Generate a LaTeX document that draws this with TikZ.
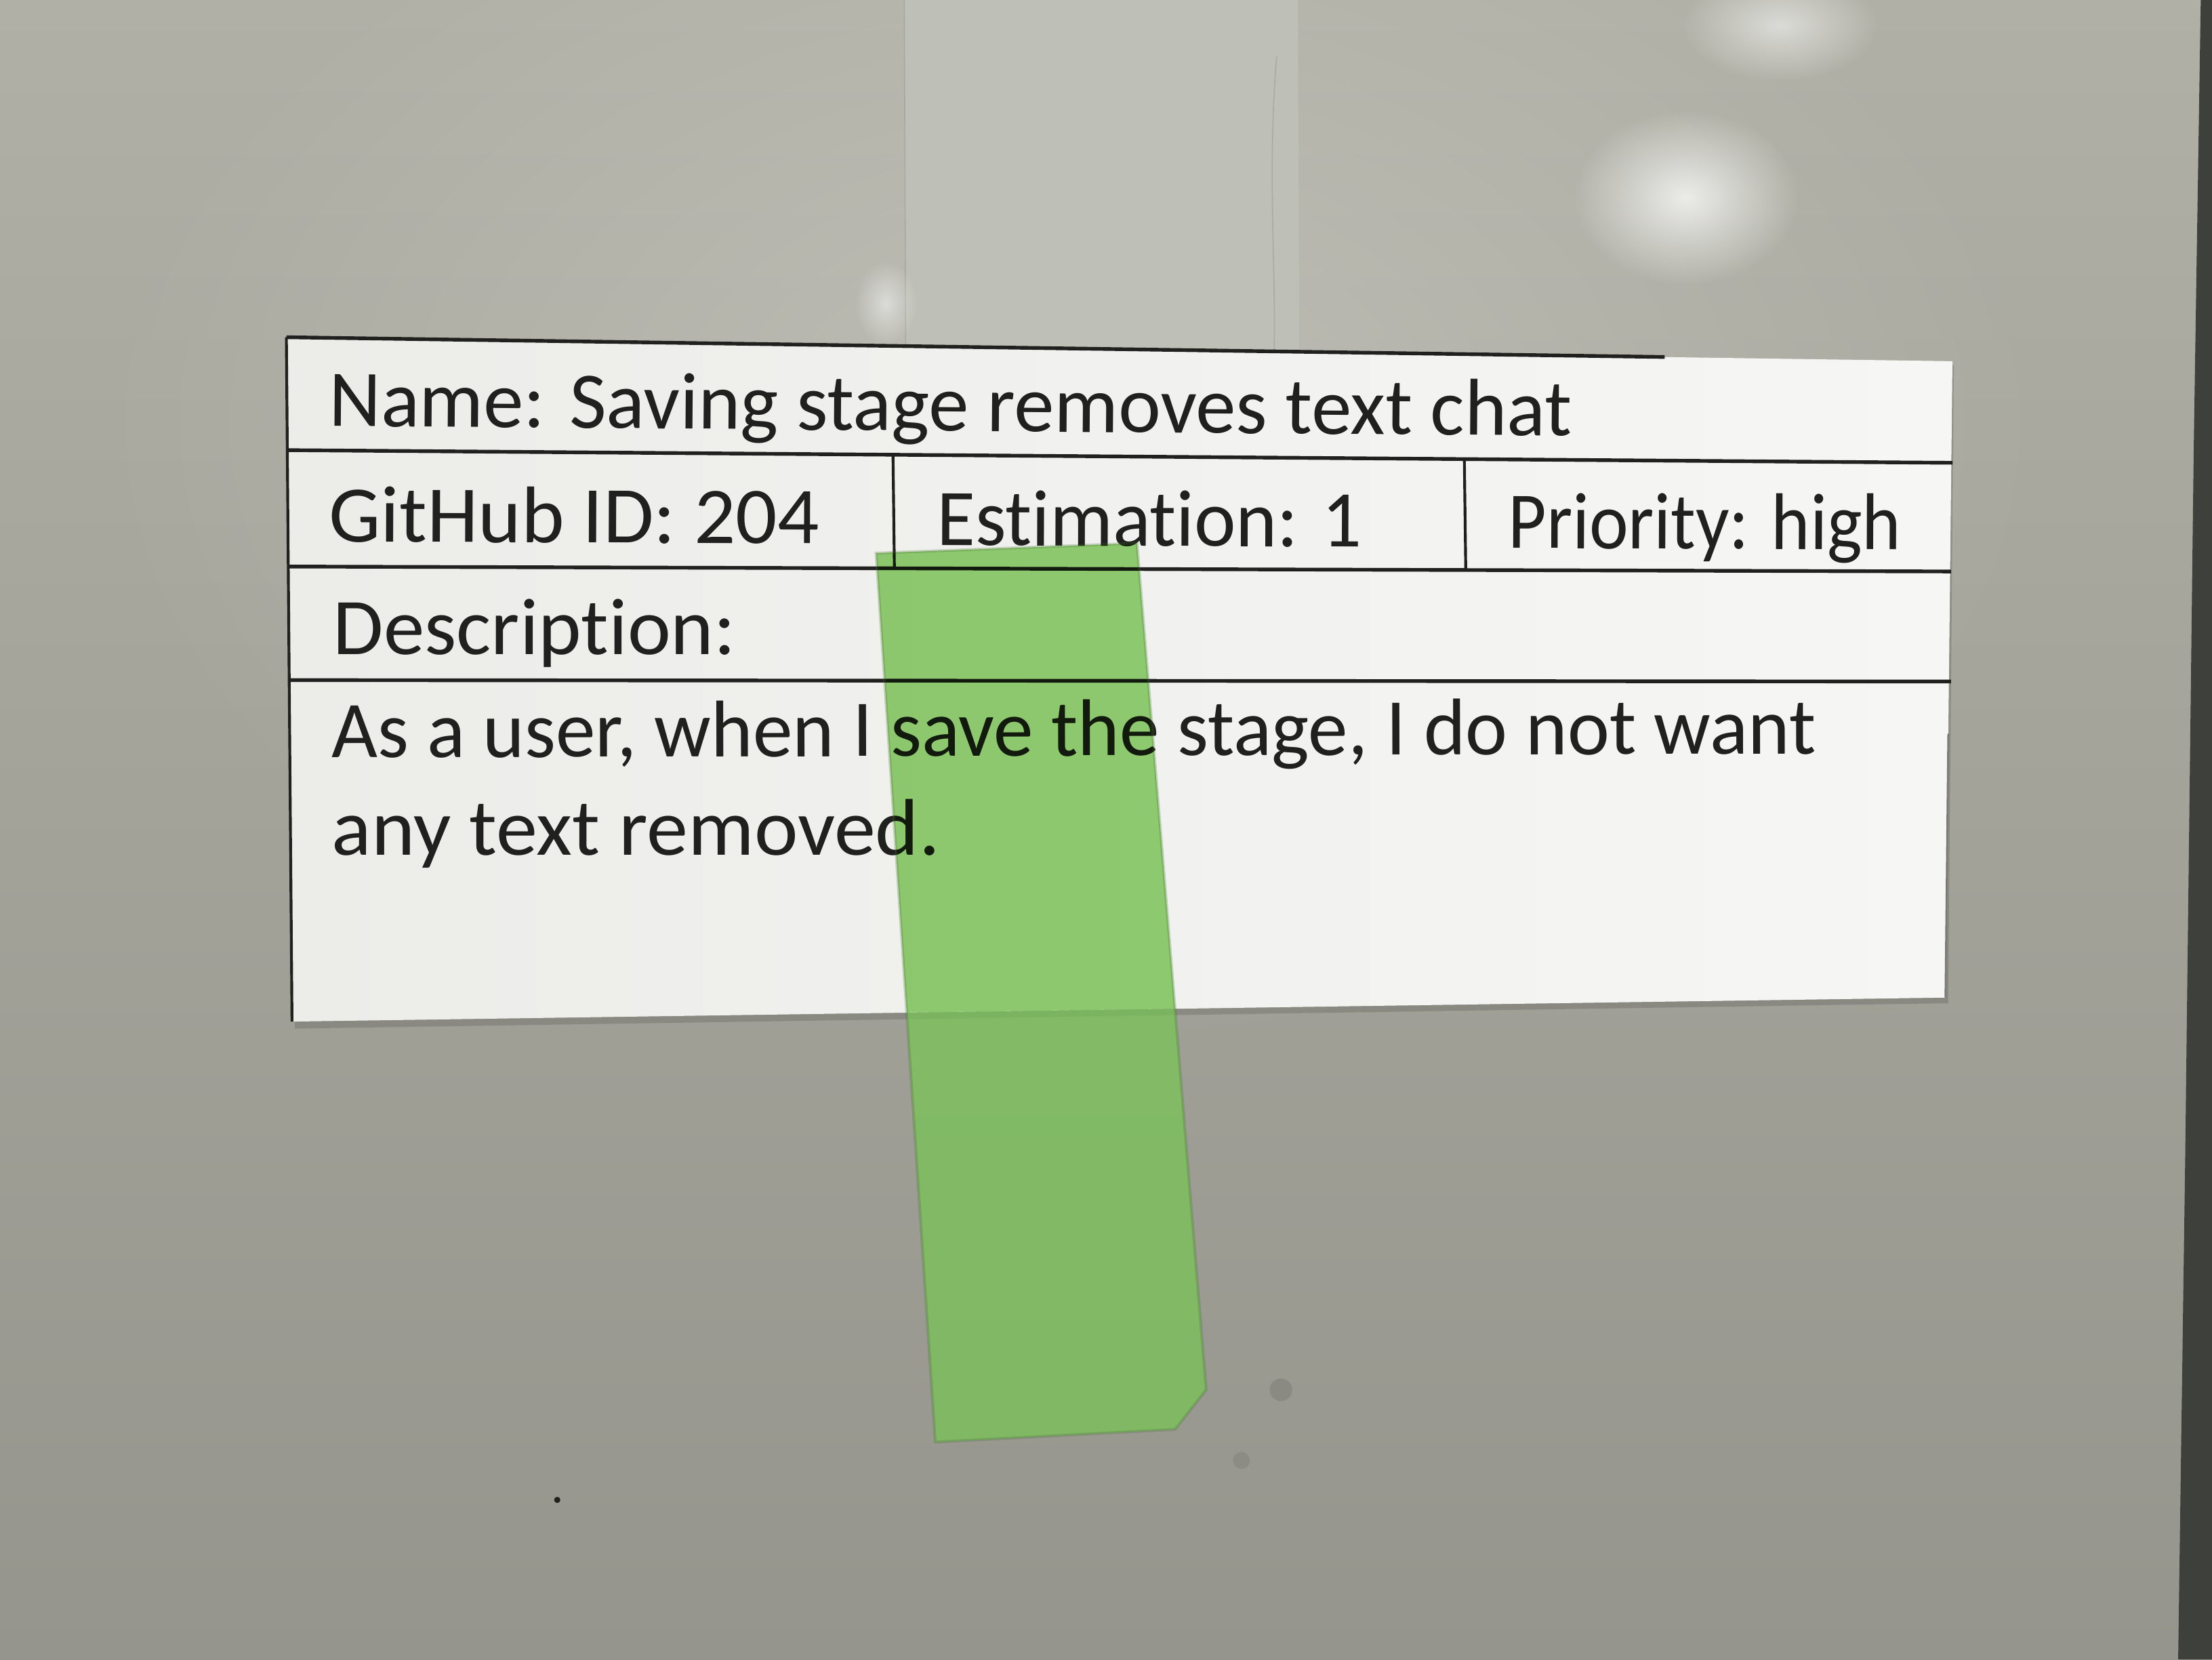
\documentclass[tikz,border=0pt]{standalone}
\usepackage{fontspec}
\setmainfont{Carlito}[Ligatures=NoCommon]
\usetikzlibrary{fadings}
\definecolor{wallTop}{RGB}{176,176,166}
\definecolor{wallBot}{RGB}{150,149,141}
\definecolor{tapeGray}{RGB}{190,191,182}
\definecolor{cardL}{RGB}{236,236,233}
\definecolor{cardR}{RGB}{246,247,245}
\definecolor{ink}{RGB}{32,32,30}
\definecolor{tapeGreen}{RGB}{118,198,82}
\definecolor{tapeMul}{RGB}{150,212,118}
\definecolor{edgeDark}{RGB}{62,64,60}
\tikzfading[name=glow, inner color=transparent!0, outer color=transparent!100]
\tikzset{
  cardline/.style={line width=2.6pt, draw=ink},
  cardtext/.style={anchor=base west, inner sep=0pt, text=ink, font=\fontsize{57}{57}\selectfont},
  shine/.style={fill=white, path fading=glow}
}
\begin{document}
\begin{tikzpicture}[x=1pt,y=-1pt]
\useasboundingbox (0,0) rectangle (1568,1176);
% wall
\shade[top color=wallTop, bottom color=wallBot] (0,0) rectangle (1568,1176);
\fill[white, path fading=glow, opacity=0.22] (760,300) ellipse (700 and 450);
% dark cabinet edge at right
\fill[edgeDark] (1560,0) -- (1568,0) -- (1568,1176) -- (1544,1176) -- (1549,820) -- (1555,320) -- cycle;
% glossy highlights
\fill[shine, opacity=0.75] (1195,140) ellipse (80 and 62);
\fill[shine, opacity=0.55] (1262,18) ellipse (70 and 40);
% grey tape above the card
\fill[tapeGray] (641,0) -- (920,0) -- (921,252) -- (642,245) -- cycle;
\draw[tapeGray!80!black, line width=0.8pt, opacity=0.5] (641,0) -- (642,245);
\draw[tapeGray!80!black, line width=0.8pt, opacity=0.5] (905,40) .. controls (898,120) and (905,200) .. (903,252);
\fill[shine, opacity=0.5] (628,215) ellipse (22 and 30);
% small marks on the wall
\fill[ink] (395,1063) circle (2.2);
\fill[black, opacity=0.1] (908,985) circle (8);
\fill[black, opacity=0.08] (880,1035) circle (6);
% card shadow
\fill[black, opacity=0.14] (205,242) -- (1385,259) -- (1381,711) -- (209,729) -- cycle;
% card
\shade[left color=cardL, right color=cardR] (203,239) -- (1384,256) -- (1379,707) -- (207,724) -- cycle;
% printed table lines
\draw[cardline] (203,239) -- (1180,253);
\draw[cardline, line width=2pt] (203,239) -- (207,724);
\draw[ink!60, line width=1.2pt] (1381,520) -- (1379,707);
\draw[cardline] (203,319) -- (1384,328);
\draw[cardline] (205,401.5) -- (1383,405);
\draw[cardline] (205,482) -- (1383,483);
\draw[cardline, line width=2pt] (633,322) -- (634,403);
\draw[cardline, line width=2pt] (1038,325) -- (1039,404);
% texts
\node[cardtext, rotate=-0.45] (name) at (233,302) {Name: Saving stage removes text chat};
\node[cardtext, rotate=-0.2, xscale=1.02] (gh) at (233,384) {GitHub ID: 204};
\node[cardtext, rotate=-0.2, xscale=0.98] (est) at (664,386.5) {Estimation: 1};
\node[cardtext, rotate=-0.2, xscale=0.92] (prio) at (1069,388.5) {Priority: high};
\node[cardtext, xscale=1.02] (desc) at (236,464) {Description:};
\node[cardtext, rotate=0.15, xscale=0.99] (d1) at (235,537) {As a user, when I save the stage, I do not want};
\node[cardtext, xscale=1.03] (d2) at (235,606) {any text removed.};
% green tape: on the card (multiplied, text shows through dark) and on the wall
\begin{scope}[blend mode=multiply]
\fill[tapeMul] (621,392) -- (806,385) -- (833,714.9) -- (642.7,717.6) -- cycle;
\end{scope}
\fill[tapeGreen, opacity=0.7] (642.7,717.6) -- (833,714.9) -- (855,985) -- (833,1013) -- (663,1022) -- cycle;
\draw[tapeGreen!55!black, opacity=0.25, line width=2pt] (621,392) -- (806,385) -- (855,985) -- (833,1013) -- (663,1022) -- cycle;
\end{tikzpicture}
\end{document}
